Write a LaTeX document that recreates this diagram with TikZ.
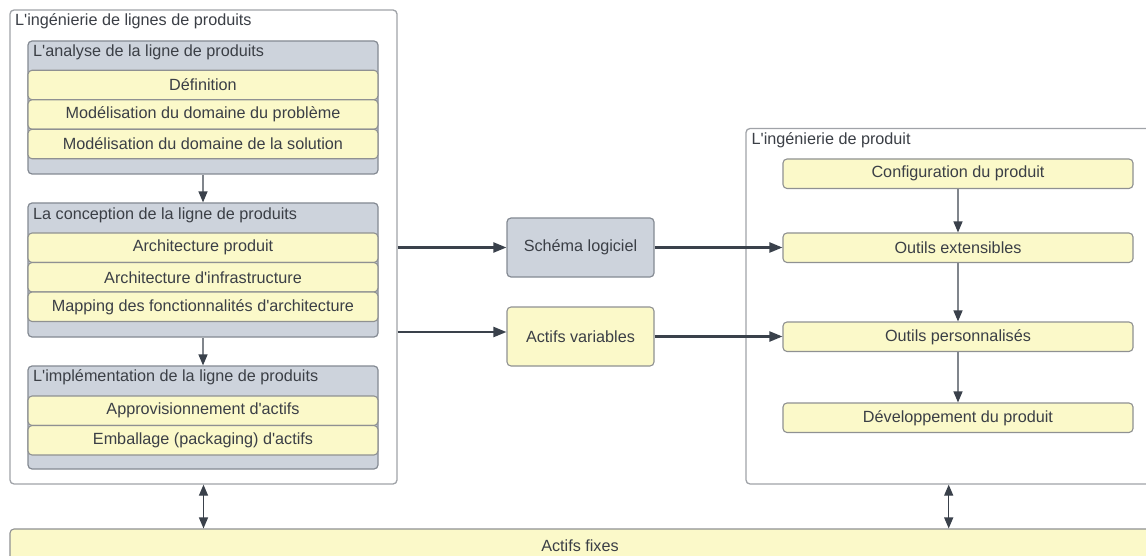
\documentclass[tikz,border=0pt]{standalone}
\usepackage{fontspec}
\setmainfont{Liberation Sans}
\usetikzlibrary{arrows.meta,calc}
\newcommand{\aq}{\textquotesingle}
\definecolor{txt}{HTML}{3B3F46}
\definecolor{grpfill}{HTML}{CDD3DC}
\definecolor{grpline}{HTML}{848A93}
\definecolor{yfill}{HTML}{FBF9C9}
\definecolor{yline}{HTML}{8F9192}
\definecolor{contline}{HTML}{A0A3A8}
\definecolor{arr}{HTML}{3A414B}
\definecolor{arrgrey}{HTML}{80858C}
\tikzset{
  every node/.style={font=\fontsize{16.2}{19}\selectfont, text=txt, inner sep=0pt},
  cont/.style={draw=contline, fill=white, rounded corners=4pt, line width=1.3pt},
  grp/.style={draw=grpline, fill=grpfill, rounded corners=4pt, line width=1.2pt},
  ybox/.style={draw=yline, fill=yfill, rounded corners=4pt, line width=1.1pt},
  hdr/.style={anchor=west},
  vflow/.style={draw=arrgrey, line width=1.3pt, -{Triangle[length=11pt,width=9pt,color=arr]}},
  dflow/.style={draw=arr, line width=1.3pt, {Triangle[length=11pt,width=9pt,color=arr]}-{Triangle[length=11pt,width=9pt,color=arr]}},
  hflow/.style={draw=arr, line width=2.2pt, -{Triangle[length=13pt,width=10pt,color=arr]}}
}
\begin{document}
\begin{tikzpicture}[x=1pt,y=-1pt]
\useasboundingbox (0,0) rectangle (1146,556);
\clip (0,0) rectangle (1146,556);
% containers
\node[cont, minimum width=387pt, minimum height=474pt] (leftc) at (203.5,247) {};
\node[hdr] (leftt) at (15,21.5) {L\aq ingénierie de lignes de produits};
\node[cont, minimum width=405.4pt, minimum height=355.5pt] (rightc) at (948.7,306.25) {};
\node[hdr] (rightt) at (751.5,140.5) {L\aq ingénierie de produit};
% analysis group
\node[grp, minimum width=350pt, minimum height=133pt] (ana) at (203,107.5) {};
\node[hdr] (anat) at (33,52.5) {L\aq analyse de la ligne de produits};
\node[ybox, minimum width=350pt, minimum height=29.5pt] (a1) at (203,85) {Définition};
\node[ybox, minimum width=350pt, minimum height=29.5pt] (a2) at (203,114.5) {Modélisation du domaine du problème};
\node[ybox, minimum width=350pt, minimum height=29.5pt] (a3) at (203,144) {Modélisation du domaine de la solution};
% conception group
\node[grp, minimum width=350pt, minimum height=134pt] (con) at (203,270) {};
\node[hdr] (cont) at (33,215.5) {La conception de la ligne de produits};
\node[ybox, minimum width=350pt, minimum height=29.5pt] (c1) at (203,247.75) {Architecture produit};
\node[ybox, minimum width=350pt, minimum height=29.5pt] (c2) at (203,277.25) {Architecture d\aq infrastructure};
\node[ybox, minimum width=350pt, minimum height=29.5pt] (c3) at (203,306.75) {Mapping des fonctionnalités d\aq architecture};
% implementation group
\node[grp, minimum width=350pt, minimum height=103pt] (imp) at (203,417.5) {};
\node[hdr] (impt) at (33,377.5) {L\aq implémentation de la ligne de produits};
\node[ybox, minimum width=350pt, minimum height=29.5pt] (i1) at (203,410.75) {Approvisionnement d\aq actifs};
\node[ybox, minimum width=350pt, minimum height=29.5pt] (i2) at (203,440.25) {Emballage (packaging) d\aq actifs};
% middle
\node[grp, minimum width=147pt, minimum height=59pt] (sch) at (580.5,247.5) {Schéma logiciel};
\node[ybox, minimum width=147pt, minimum height=59pt] (act) at (580.5,336.5) {Actifs variables};
% right boxes
\node[ybox, minimum width=350pt, minimum height=29.5pt] (cfg) at (958,173.75) {Configuration du produit};
\node[ybox, minimum width=350pt, minimum height=29.5pt] (oext) at (958,247.75) {Outils extensibles};
\node[ybox, minimum width=350pt, minimum height=29.5pt] (oper) at (958,336.75) {Outils personnalisés};
\node[ybox, minimum width=350pt, minimum height=29.5pt] (dev) at (958,417.75) {Développement du produit};
% bottom bar
\node[ybox, minimum width=1140pt, minimum height=34pt] (fix) at (580,546) {};
\node (fixt) at (580,546) {Actifs fixes};
% connectors
\draw[vflow] (ana.south) -- (con.north);
\draw[vflow] (con.south) -- (imp.north);
\draw[vflow] (cfg.south) -- (oext.north);
\draw[vflow] (oext.south) -- (oper.north);
\draw[vflow] (oper.south) -- (dev.north);
\draw[dflow] (leftc.south) -- (leftc.south |- fix.north);
\draw[dflow] (rightc.south) -- (rightc.south |- fix.north);
\draw[hflow] (leftc.east |- sch.west) -- (sch.west);
\draw[hflow] (sch.east) -- (sch.east -| oext.west);
\draw[hflow] ([yshift=4.5pt]act.west -| leftc.east) -- ([yshift=4.5pt]act.west);
\draw[hflow] (act.east) -- (act.east -| oper.west);
\end{tikzpicture}
\end{document}
